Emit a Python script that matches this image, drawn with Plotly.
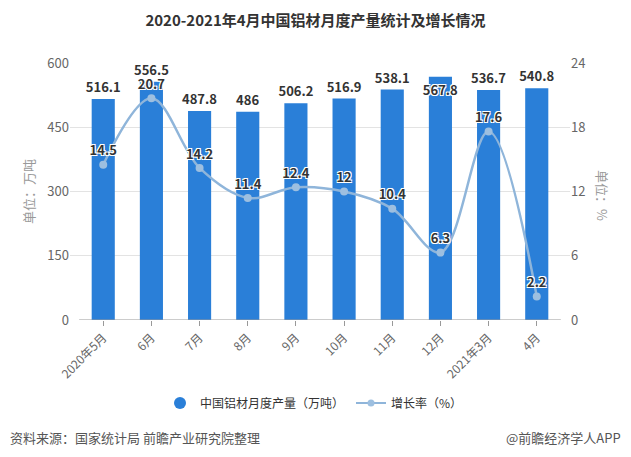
import plotly.graph_objects as go

categories = ["2020年5月", "6月", "7月", "8月", "9月", "10月", "11月", "12月", "2021年3月", "4月"]
output = [516.1, 556.5, 487.8, 486, 506.2, 516.9, 538.1, 567.8, 536.7, 540.8]
growth = [14.5, 20.7, 14.2, 11.4, 12.4, 12, 10.4, 6.3, 17.6, 2.2]
left_ticks = [0, 150, 300, 450, 600]
right_ticks = [0, 6, 12, 18, 24]

BAR = "#2a7fd8"
LINE = "#8fb5da"
FONT = "Noto Sans CJK SC"

bar_pos = ["inside" if v > 560 else "outside" for v in output]
halo = "1px 1px 0px #fff, -1px -1px 0px #fff, 1px -1px 0px #fff, -1px 1px 0px #fff"

fig = go.Figure()
fig.add_trace(go.Bar(
    x=categories, y=output, name="中国铝材月度产量（万吨）",
    marker=dict(color=BAR, line=dict(width=0)), width=0.48,
    text=[str(v) for v in output], textposition=bar_pos,
    insidetextanchor="end", constraintext="none", textangle=0,
    textfont=dict(family=FONT, size=13, color="#333", weight="bold"),
    insidetextfont=dict(family=FONT, size=13, color="#333", weight="bold", shadow=halo),
    outsidetextfont=dict(family=FONT, size=13, color="#333", weight="bold"),
    cliponaxis=False, showlegend=False, yaxis="y",
))
fig.add_trace(go.Scatter(
    x=categories, y=growth, name="增长率（%）", yaxis="y2",
    mode="lines+markers+text", line=dict(color=LINE, width=2.5, shape="spline", smoothing=1.0),
    marker=dict(color="#9dbfe0", size=8),
    text=[str(v) for v in growth], textposition="top center",
    textfont=dict(family=FONT, size=13, color="#333", weight="bold", shadow=halo),
    cliponaxis=False, showlegend=False,
))
# legend entries
fig.add_trace(go.Scatter(x=[None], y=[None], mode="markers", name="中国铝材月度产量（万吨）",
                         marker=dict(color=BAR, size=12, symbol="circle")))
fig.add_trace(go.Scatter(x=[None], y=[None], mode="lines+markers", name="增长率（%）",
                         line=dict(color=LINE, width=2), marker=dict(color="#9dbfe0", size=7)))

fig.update_layout(
    width=631, height=457,
    margin=dict(l=70, r=61, t=63, b=137, autoexpand=False),
    paper_bgcolor="white", plot_bgcolor="white",
    font=dict(family=FONT, color="#666", size=12),
    title=dict(text="<b>2020-2021年4月中国铝材月度产量统计及增长情况</b>", x=0.5, xanchor="center",
               y=1 - 21 / 457, yanchor="middle", font=dict(family=FONT, size=15, color="#333")),
    xaxis=dict(range=[-0.69, 9.69], tickangle=-45, ticks="outside", ticklen=5, tickcolor="#999",
               showgrid=False, showline=False, zeroline=False, automargin=False,
               tickfont=dict(family=FONT, size=12, color="#666")),
    yaxis=dict(range=[0, 600], tickvals=left_ticks, showgrid=True, gridcolor="#e3e3e3",
               zeroline=False, showline=False, ticks="", automargin=False,
               tickfont=dict(family=FONT, size=13, color="#666"),
               title=dict(text="单位：万吨", font=dict(family=FONT, size=13, color="#999"), standoff=9)),
    yaxis2=dict(range=[0, 24], tickvals=right_ticks, overlaying="y", side="right",
                showgrid=False, zeroline=False, showline=False, automargin=False,
                tickfont=dict(family=FONT, size=13, color="#666")),
    legend=dict(orientation="h", x=(160 - 70) / 500, xanchor="left", y=-0.323, yanchor="middle",
                font=dict(family=FONT, size=12, color="#333"), itemwidth=30,
                entrywidth=146, entrywidthmode="pixels"),
    shapes=[dict(type="line", xref="x", yref="y", x0=-0.5, x1=9.5, y0=0, y1=0,
                 line=dict(color="#999", width=1))],
    annotations=[
        dict(text="单位：%", xref="paper", yref="paper", x=(603 - 70) / 500, y=(320 - 195) / 257,
             xanchor="center", yanchor="middle",
             textangle=90, showarrow=False, font=dict(family=FONT, size=13, color="#999")),
        dict(text="资料来源：国家统计局 前瞻产业研究院整理", xref="paper", yref="paper",
             x=-62 / 500, y=(320 - 437) / 257, xanchor="left", yanchor="middle", showarrow=False,
             font=dict(family=FONT, size=13, color="#555")),
        dict(text="@前瞻经济学人APP", xref="paper", yref="paper",
             x=(623 - 70) / 500, y=(320 - 437) / 257, xanchor="right", yanchor="middle", showarrow=False,
             font=dict(family=FONT, size=13, color="#555")),
    ],
)

fig.write_html("out.html", config={"displayModeBar": False},
               post_script="document.body.style.margin='0';")
